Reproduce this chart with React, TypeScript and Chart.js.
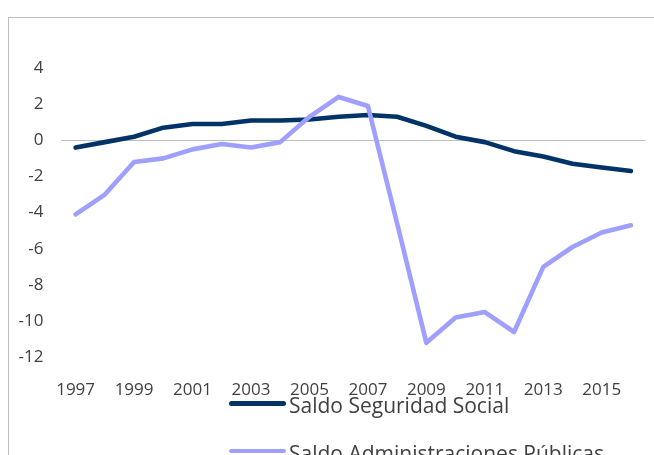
import React, { useEffect, useRef } from "react";
import { Chart, registerables } from "chart.js";

Chart.register(...registerables);

const years = [
  "1997", "1998", "1999", "2000", "2001", "2002", "2003", "2004", "2005", "2006",
  "2007", "2008", "2009", "2010", "2011", "2012", "2013", "2014", "2015", "2016",
];
const seguridadSocial = [
  -0.4, -0.1, 0.2, 0.7, 0.9, 0.9, 1.1, 1.1, 1.15, 1.3,
  1.4, 1.3, 0.8, 0.2, -0.1, -0.6, -0.9, -1.3, -1.5, -1.7,
];
const administraciones = [
  -4.1, -3.0, -1.2, -1.0, -0.5, -0.2, -0.4, -0.1, 1.3, 2.4,
  1.9, -4.6, -11.2, -9.8, -9.5, -10.6, -7.0, -5.9, -5.1, -4.7,
];
const yMin = -12;
const yMax = 4;
const yStep = 2;
const seriesNames = ["Saldo Seguridad Social", "Saldo Administraciones Públicas"];
const seriesColors = ["#003366", "#9f9fff"];

const FONT = "'Open Sans', sans-serif";
const TEXT = "#404040";

export default function App() {
  const ref = useRef<HTMLCanvasElement | null>(null);

  useEffect(() => {
    if (!ref.current) return;
    const chart = new Chart(ref.current, {
      type: "line",
      data: {
        labels: years,
        datasets: [
          {
            label: seriesNames[0],
            data: seguridadSocial,
            borderColor: seriesColors[0],
            backgroundColor: seriesColors[0],
            borderWidth: 4.6,
            pointRadius: 0,
            tension: 0,
            borderCapStyle: "round",
            borderJoinStyle: "round",
            order: 1,
          },
          {
            label: seriesNames[1],
            data: administraciones,
            borderColor: seriesColors[1],
            backgroundColor: seriesColors[1],
            borderWidth: 4.6,
            pointRadius: 0,
            tension: 0,
            borderCapStyle: "round",
            borderJoinStyle: "round",
            order: 0,
          },
        ],
      },
      options: {
        animation: false,
        responsive: false,
        maintainAspectRatio: false,
        layout: { padding: { top: 50, right: 1, bottom: 0, left: 0 } },
        plugins: {
          legend: { display: false },
          tooltip: { enabled: false },
        },
        font: { family: FONT },
        scales: {
          x: {
            offset: true,
            grid: { display: false, drawTicks: false },
            border: { display: false },
            ticks: {
              autoSkip: false,
              maxRotation: 0,
              minRotation: 0,
              padding: 23,
              color: TEXT,
              font: { family: FONT, size: 17 },
              callback: (_v: any, i: number) => (i % 2 === 0 ? years[i] : ""),
            },
            afterFit: (s: any) => {
              s.height = 97.7;
            },
          },
          y: {
            min: yMin,
            max: yMax,
            grid: {
              drawTicks: false,
              lineWidth: 1,
              color: (ctx: any) =>
                ctx.tick && ctx.tick.value === 0 ? "#bfbfbf" : "rgba(0,0,0,0)",
            },
            border: { display: false },
            ticks: {
              stepSize: yStep,
              padding: 17.5,
              color: TEXT,
              font: { family: FONT, size: 17 },
            },
            afterFit: (s: any) => {
              s.width = 52;
            },
          },
        },
      },
    });
    return () => chart.destroy();
  }, []);

  const legendText: React.CSSProperties = {
    position: "absolute",
    fontFamily: FONT,
    fontSize: 21,
    lineHeight: 1,
    color: TEXT,
    whiteSpace: "nowrap",
  };
  const legendLine: React.CSSProperties = {
    position: "absolute",
    width: 57,
    height: 4.6,
    borderRadius: 3,
  };

  return (
    <div
      style={{
        position: "fixed",
        left: 8,
        top: 17,
        width: 646,
        height: 438,
        overflow: "hidden",
        borderLeft: "1px solid #bfbfbf",
        borderTop: "1px solid #bfbfbf",
        background: "#ffffff",
        boxSizing: "border-box",
      }}
    >
      <canvas ref={ref} width={645} height={437} style={{ display: "block" }} />
      <div style={{ ...legendLine, left: 220, top: 383, background: seriesColors[0] }} />
      <div style={{ ...legendText, left: 280, top: 377 }}>{seriesNames[0]}</div>
      <div style={{ ...legendLine, left: 220, top: 430.5, background: seriesColors[1] }} />
      <div style={{ ...legendText, left: 280, top: 424.7 }}>{seriesNames[1]}</div>
    </div>
  );
}
